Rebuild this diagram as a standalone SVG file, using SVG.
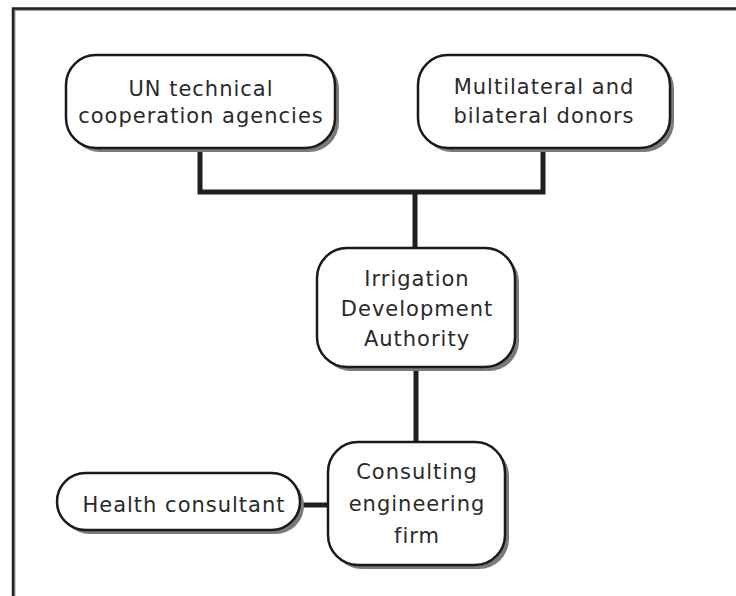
<svg xmlns="http://www.w3.org/2000/svg" width="736" height="596" viewBox="0 0 736 596">
<style>
.box{fill:#fff;stroke:#1a1a1a;stroke-width:2.5}
.sh{fill:#7a7a7a}
.lbl{font-family:"DejaVu Sans",sans-serif;font-size:21px;letter-spacing:1px;fill:#2a2a2a;text-anchor:middle}
.ln{fill:none;stroke:#1f1f1f;stroke-width:5;stroke-linejoin:miter;stroke-linecap:butt}
.frame{fill:none;stroke:#222;stroke-width:2.5}
</style>
<rect width="736" height="596" fill="#fff"/>
<g id="frame">
<path d="M13,596 V8.5 H736" stroke="#999" stroke-width="2" fill="none" transform="translate(1.5,1.5)"/>
<path class="frame" d="M13,596 V8.5 H736"/>
</g>
<g id="connectors">
<path class="ln" d="M200,148 V192 H543 V148"/>
<path class="ln" d="M415,192 V248"/>
<path class="ln" d="M416,367 V442"/>
<path class="ln" d="M300,505 H328"/>
</g>
<g id="un">
<rect class="sh" x="70" y="59" width="269" height="93" rx="30"/>
<rect class="box" x="66" y="55" width="269" height="93" rx="30"/>
<text class="lbl" x="201" y="96">UN technical</text>
<text class="lbl" x="201" y="123">cooperation agencies</text>
</g>
<g id="donors">
<rect class="sh" x="422" y="59" width="252" height="93" rx="30"/>
<rect class="box" x="418" y="55" width="252" height="93" rx="30"/>
<text class="lbl" x="544" y="94">Multilateral and</text>
<text class="lbl" x="544" y="123">bilateral donors</text>
</g>
<g id="ida">
<rect class="sh" x="321" y="252" width="198" height="119" rx="30"/>
<rect class="box" x="317" y="248" width="198" height="119" rx="30"/>
<text class="lbl" x="417" y="286">Irrigation</text>
<text class="lbl" x="417" y="316">Development</text>
<text class="lbl" x="417" y="346">Authority</text>
</g>
<g id="firm">
<rect class="sh" x="332" y="446" width="177" height="123" rx="30"/>
<rect class="box" x="328" y="442" width="177" height="123" rx="30"/>
<text class="lbl" x="417" y="479">Consulting</text>
<text class="lbl" x="417" y="511">engineering</text>
<text class="lbl" x="417" y="543">firm</text>
</g>
<g id="health">
<rect class="sh" x="61" y="477" width="243" height="57" rx="28.5"/>
<rect class="box" x="57" y="473" width="243" height="57" rx="28.5"/>
<text class="lbl" x="184" y="512">Health consultant</text>
</g>
</svg>
